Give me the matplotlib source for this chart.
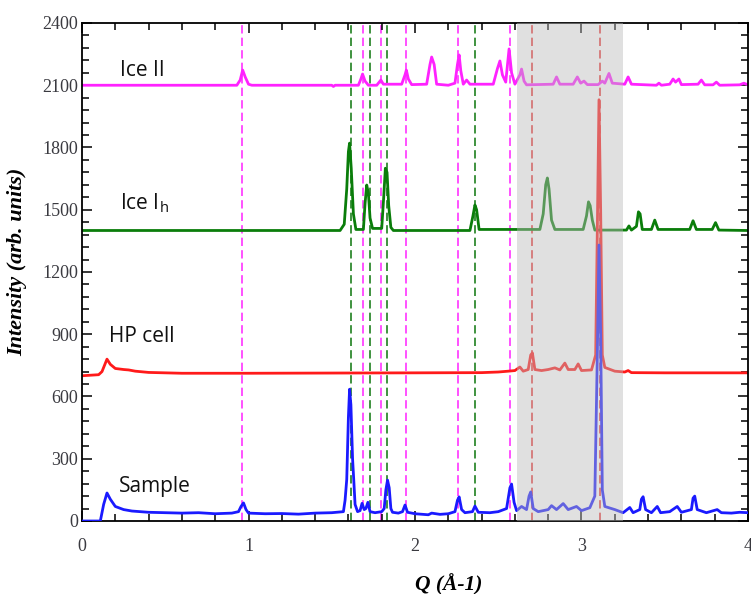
import matplotlib
matplotlib.use("Agg")
import matplotlib.pyplot as plt
from matplotlib.ticker import MultipleLocator

# Sample (blue)
q_sample = [0, 0.11, 0.13, 0.15, 0.17, 0.2, 0.25, 0.3, 0.4, 0.5, 0.6, 0.7, 0.8, 0.9,
            0.94, 0.955, 0.97, 0.985, 1.0, 1.1, 1.2, 1.3, 1.4, 1.5, 1.57, 1.58, 1.59,
            1.60, 1.607, 1.615, 1.625, 1.632, 1.64, 1.655, 1.67, 1.682, 1.695, 1.705,
            1.717, 1.73, 1.76, 1.80, 1.815, 1.825, 1.835, 1.845, 1.855, 1.865, 1.9, 1.925,
            1.94, 1.955, 2.0, 2.08, 2.1, 2.15, 2.2, 2.24, 2.255, 2.265, 2.28, 2.3, 2.345,
            2.36, 2.38, 2.45, 2.5, 2.55, 2.57, 2.58, 2.595, 2.61, 2.64, 2.67, 2.685, 2.695,
            2.71, 2.74, 2.8, 2.82, 2.85, 2.89, 2.92, 2.97, 3.0, 3.05, 3.08, 3.095, 3.105,
            3.115, 3.125, 3.14, 3.2, 3.25, 3.29, 3.31, 3.35, 3.36, 3.37, 3.385, 3.42,
            3.455, 3.475, 3.53, 3.575, 3.6, 3.66, 3.67, 3.68, 3.695, 3.75, 3.815, 3.84,
            3.9, 3.95, 4.0]
i_sample = [0, 0, 80, 135, 105, 70, 55, 48, 42, 40, 38, 40, 35, 38,
            45, 70, 87, 55, 38, 35, 36, 33, 38, 40, 45, 100, 200,
            500, 635, 560, 300, 200, 80, 45, 50, 85, 55, 60,
            90, 45, 40, 45, 60, 150, 197, 160, 60, 42, 38, 45,
            77, 42, 35, 30, 38, 32, 35, 45, 100, 116, 55, 40, 45,
            72, 42, 40, 45, 60, 160, 178, 90, 50, 70, 55, 120, 140,
            60, 45, 55, 74, 55, 84, 55, 70, 50, 64, 120, 800, 1330,
            900, 150, 70, 55, 40, 65, 40, 55, 105, 117, 55, 40,
            70, 40, 45, 70, 42, 55, 110, 120, 55, 40, 55, 40,
            38, 42, 40]

# HP cell (red)
q_cell = [0, 0.1, 0.12, 0.15, 0.17, 0.2, 0.25, 0.28, 0.32, 0.4, 0.6, 1.0, 1.5, 2.0,
          2.4, 2.5, 2.56, 2.6, 2.63, 2.65, 2.68, 2.695, 2.705, 2.72, 2.76, 2.80, 2.84,
          2.87, 2.90, 2.92, 2.96, 2.98, 3.0, 3.06, 3.085, 3.095, 3.105, 3.115, 3.125,
          3.14, 3.2, 3.26, 3.28, 3.30, 3.5, 4.0]
i_cell = [700, 705, 720, 780, 755, 735, 730, 728, 722, 716, 712, 712, 713, 714,
          715, 718, 722, 725, 742, 722, 730, 800, 810, 730, 725, 730, 738,
          728, 761, 730, 730, 757, 725, 728, 800, 1400, 2030, 1500, 800,
          740, 722, 718, 725, 715, 714, 714]

# Ice Ih (green)
q_ih = [0, 1.55, 1.575, 1.59, 1.60, 1.607, 1.617, 1.63, 1.645, 1.69, 1.70, 1.71, 1.72,
        1.73, 1.745, 1.80, 1.812, 1.822, 1.832, 1.842, 1.855, 1.87, 2.33, 2.348, 2.36,
        2.37, 2.385, 2.75, 2.77, 2.785, 2.795, 2.805, 2.82, 2.84, 3.01, 3.03, 3.042,
        3.052, 3.065, 3.08, 3.27, 3.285, 3.30, 3.33, 3.342, 3.352, 3.365, 3.42, 3.44,
        3.46, 3.65, 3.67, 3.69, 3.785, 3.805, 3.825, 4.0]
i_ih = [1400, 1400, 1430, 1600, 1780, 1821, 1700, 1480, 1405, 1405, 1530, 1619, 1580,
        1460, 1410, 1410, 1560, 1700, 1680, 1520, 1415, 1400, 1400, 1470, 1523,
        1500, 1405, 1405, 1480, 1620, 1653, 1600, 1450, 1405, 1405, 1470, 1538,
        1520, 1450, 1402, 1402, 1422, 1402, 1420, 1490, 1480, 1405, 1405, 1450,
        1405, 1405, 1447, 1405, 1405, 1438, 1402, 1400]

# Ice II (magenta)
q_ii = [0, 0.93, 0.95, 0.965, 0.98, 1.0, 1.02, 1.5, 1.51, 1.52, 1.66, 1.675, 1.685, 1.70,
        1.72, 1.77, 1.785, 1.795, 1.81, 1.92, 1.94, 1.948, 1.96, 1.98, 2.07, 2.09, 2.10,
        2.115, 2.13, 2.2, 2.24, 2.255, 2.265, 2.275, 2.29, 2.31, 2.33, 2.47, 2.495, 2.51,
        2.525, 2.545, 2.565, 2.58, 2.60, 2.63, 2.64, 2.655, 2.67, 2.83, 2.85, 2.87, 2.95,
        2.975, 2.995, 3.015, 3.035, 3.10, 3.125, 3.14, 3.165, 3.185, 3.26, 3.28, 3.30,
        3.45, 3.465, 3.48, 3.53, 3.55, 3.565, 3.585, 3.60, 3.70, 3.72, 3.74, 3.79, 3.81,
        3.83, 3.95, 3.975, 4.0]
i_ii = [2100, 2100, 2125, 2173, 2140, 2105, 2100, 2100, 2094, 2100, 2100, 2130, 2154, 2120,
        2100, 2100, 2115, 2125, 2105, 2105, 2150, 2173, 2130, 2103, 2105, 2200, 2236,
        2200, 2105, 2100, 2110, 2200, 2246, 2170, 2105, 2125, 2105, 2105, 2180, 2217,
        2150, 2115, 2275, 2160, 2105, 2150, 2178, 2120, 2102, 2105, 2140, 2105, 2105,
        2140, 2110, 2120, 2103, 2103, 2120, 2110, 2157, 2110, 2105, 2140, 2105,
        2100, 2110, 2100, 2105, 2130, 2115, 2130, 2103, 2105, 2125, 2102, 2102, 2115,
        2100, 2102, 2110, 2102]

# reference peak positions (dashed lines)
q_ref_ii = [0.96, 1.69, 1.795, 1.945, 2.26, 2.57]
q_ref_ih = [1.614, 1.728, 1.83, 2.36]
q_ref_cell = [2.70, 3.11]

shade_range = (2.61, 3.25)

labels = ["Ice II", "Ice I$_\\mathregular{h}$", "HP cell", "Sample"]
label_pos = [(0.23, 2145), (0.23, 1503), (0.16, 863), (0.22, 140)]


def main():
    fig = plt.figure(figsize=(7.51, 5.94), dpi=100)
    ax = fig.add_axes([0.1092, 0.1229, 0.8868, 0.8384])

    dash = dict(lw=1.2, linestyle=(0, (5, 2.5)), zorder=1)
    for q in q_ref_ii:
        ax.axvline(q, color="#ff33ff", **dash)
    for q in q_ref_ih:
        ax.axvline(q, color="#1f801f", **dash)
    for q in q_ref_cell:
        ax.axvline(q, color="#e83030", **dash)

    ax.plot(q_ii, i_ii, color="#ff22ff", lw=2.0, zorder=2)
    ax.plot(q_ih, i_ih, color="#0a7d0a", lw=2.0, zorder=2)
    ax.plot(q_cell, i_cell, color="#ff1a1a", lw=2.0, zorder=2)
    ax.plot(q_sample, i_sample, color="#1a1aff", lw=2.0, zorder=3)

    ax.axvspan(shade_range[0], shade_range[1], color="#bbbbbb", alpha=0.45, lw=0, zorder=5)

    for txt, (x, y) in zip(labels, label_pos):
        ax.text(x, y, txt, fontsize=15, family="Open Sans", ha="left", va="baseline",
                color="#111111")

    ax.set_xlim(0, 4)
    ax.set_ylim(0, 2400)
    ax.xaxis.set_major_locator(MultipleLocator(1))
    ax.xaxis.set_minor_locator(MultipleLocator(0.2))
    ax.yaxis.set_major_locator(MultipleLocator(300))
    ax.yaxis.set_minor_locator(MultipleLocator(60))
    ax.tick_params(which="both", direction="in", top=True, right=True, width=1.1,
                   labelsize=13, labelcolor="#3a3a40")
    ax.tick_params(which="major", length=7)
    ax.tick_params(which="minor", length=5)
    ax.tick_params(axis="x", pad=12)
    ax.tick_params(axis="y", pad=3)
    for lab in ax.get_xticklabels() + ax.get_yticklabels():
        lab.set_family("Liberation Serif")
    for s in ax.spines.values():
        s.set_linewidth(1.3)

    ax.set_xlabel("Q (Å-1)", family="Liberation Serif", fontsize=15.5,
                  fontweight="bold", style="italic")
    ax.xaxis.set_label_coords(0.551, -0.106)
    ax.set_ylabel("Intensity (arb. units)", family="Liberation Serif", fontsize=16,
                  fontweight="bold", style="italic")
    ax.yaxis.set_label_coords(-0.083, 0.52)

    fig.savefig("out.png", dpi=100)


if __name__ == "__main__":
    main()
